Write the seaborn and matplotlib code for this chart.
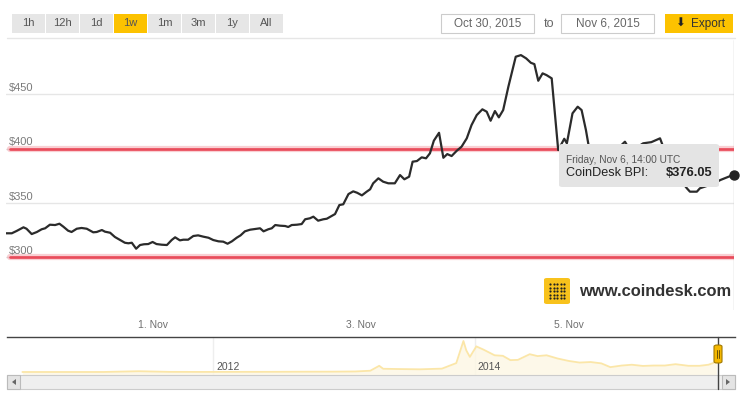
import pandas as pd
import matplotlib.pyplot as plt
import seaborn as sns
from matplotlib.patches import Rectangle, FancyBboxPatch, Polygon
from matplotlib.lines import Line2D

# CoinDesk BPI, hours after Oct 30 2015 14:00 UTC
start = pd.Timestamp('2015-10-30 14:00')
hours = [0, 1.4, 2.5, 4.1, 4.8, 6.0, 7.2, 8.3, 9.1, 10.2,
         11.4, 12.4, 13.3, 14.4, 15.2, 16.4, 17.5, 18.7, 20.2, 21.0,
         22.2, 22.9, 24.1, 25.2, 26.4, 27.5, 28.3, 29.1, 30.1, 31.0,
         31.9, 32.9, 33.9, 34.8, 36.0, 37.2, 38.3, 39.1, 40.2, 41.0,
         42.1, 43.3, 44.4, 45.6, 46.8, 47.9, 49.1, 50.2, 51.2, 52.2,
         53.3, 54.2, 55.2, 56.4, 57.5, 58.7, 59.5, 60.6, 61.4, 62.2,
         63.3, 64.5, 65.2, 66.0, 67.2, 68.3, 69.1, 70.2, 71.0, 72.1,
         73.3, 74.1, 75.2, 76.0, 77.0, 77.9, 79.1, 80.2, 81.1, 82.2,
         83.3, 84.1, 84.8, 86.0, 87.1, 88.3, 89.8, 91.0, 92.0, 93.1,
         93.9, 94.9, 96.0, 97.0, 97.9, 98.8, 100.0, 101.0, 101.9, 102.9,
         104.1, 105.2, 106.4, 107.5, 108.7, 110.0, 111.0, 111.9, 112.9, 113.8,
         114.8, 116.0, 117.7, 118.9, 120.1, 121.2, 122.0, 122.9, 123.9, 124.8,
         126.0, 127.5, 128.9, 129.5, 130.8, 132.0, 132.9, 133.9, 134.5, 136,
         138, 140, 141.5, 142.9, 144, 146, 147.1, 149, 151.0, 151.8,
         153, 155, 156.3, 157.2, 157.9, 159.5, 160.2, 162, 163.5, 164.9,
         168]
prices = [322.1, 322.1, 324.2, 327.6, 326.3, 321.4, 323.3, 325.8, 326.7, 330.0,
          329.7, 330.9, 328.2, 324.5, 323.3, 326.3, 327.0, 326.3, 323.0, 323.3,
          325.1, 323.6, 322.6, 318.7, 315.9, 313.4, 312.9, 313.4, 307.9, 311.3,
          312.0, 312.2, 314.1, 312.2, 311.6, 311.3, 315.9, 318.4, 315.6, 316.2,
          316.2, 319.6, 320.2, 319.0, 318.0, 315.9, 314.7, 314.4, 312.5, 314.7,
          318.0, 320.2, 323.9, 325.4, 326.0, 326.7, 323.9, 325.8, 326.7, 329.7,
          329.1, 328.8, 327.9, 329.7, 330.0, 330.6, 335.0, 335.9, 337.4, 333.7,
          335.0, 335.5, 338.0, 339.8, 348.1, 348.8, 358.2, 360.7, 359.4, 357.0,
          360.4, 362.6, 368.1, 372.7, 369.6, 368.1, 368.1, 375.7, 371.8, 374.2,
          388.0, 388.6, 392.0, 391.1, 395.7, 407.3, 414.6, 391.6, 395.0, 393.2,
          398.1, 401.8, 409.5, 421.7, 430.9, 436.2, 434.0, 425.7, 434.6, 428.8,
          435.5, 457.0, 484.6, 486.1, 483.1, 479.0, 477.8, 462.5, 469.3, 467.7,
          464.7, 398.7, 409.1, 404.9, 432.5, 438.6, 435.5, 417.1, 403.3, 398,
          395, 397, 401, 406.4, 399, 402, 404.9, 406, 409.5, 401,
          395, 380, 368, 363.5, 360.4, 360.4, 363.5, 366, 368, 371.1,
          376.05]

# navigator (full history)
nav_dates = ['2010-07-18', '2010-12-01', '2011-03-01', '2011-06-08', '2011-09-01',
             '2011-12-01', '2012-03-01', '2012-06-01', '2012-09-01', '2012-12-01',
             '2013-02-01', '2013-03-15', '2013-04-09', '2013-04-20', '2013-06-01',
             '2013-08-01', '2013-10-01', '2013-11-10', '2013-11-30', '2013-12-08',
             '2013-12-18', '2014-01-05', '2014-01-25', '2014-02-25', '2014-03-20',
             '2014-04-10', '2014-05-01', '2014-06-03', '2014-06-25', '2014-07-20',
             '2014-08-20', '2014-09-20', '2014-10-20', '2014-11-20', '2014-12-20',
             '2015-01-14', '2015-02-15', '2015-03-15', '2015-04-15', '2015-05-15',
             '2015-06-15', '2015-07-15', '2015-08-20', '2015-09-20', '2015-10-15',
             '2015-11-06']
nav_prices = [0.1, 0.3, 0.9, 29, 5, 3, 5, 6, 11, 13,
              20, 47, 230, 120, 110, 100, 125, 330, 1150, 800,
              560, 950, 830, 620, 600, 440, 450, 660, 590, 620,
              500, 410, 350, 370, 320, 180, 240, 270, 225, 240,
              240, 290, 230, 230, 270, 376]

range_buttons = ['1h', '12h', '1d', '1w', '1m', '3m', '1y', 'All']
active_button = '1w'
from_date = 'Oct 30, 2015'
to_date = 'Nov 6, 2015'
x_ticks = ['2015-11-01', '2015-11-03', '2015-11-05']
x_tick_labels = ['1. Nov', '3. Nov', '5. Nov']
y_ticks = [300, 350, 400, 450]
red_levels = [300, 400]
nav_ticks = ['2012-01-01', '2014-01-01']
nav_tick_labels = ['2012', '2014']
tooltip_date = 'Friday, Nov 6, 14:00 UTC'
tooltip_name = 'CoinDesk BPI:'

sns.set_style('white')
plt.rcParams['font.family'] = ['Liberation Sans', 'DejaVu Sans']

W, H = 742, 394
fig = plt.figure(figsize=(W / 100, H / 100), dpi=100)


def fx(x):
    return x / W


def fy(y):
    return 1 - y / H


# ---- main chart
ax = fig.add_axes([fx(5.7), fy(310), 728 / W, 270 / H])
df = pd.DataFrame({'time': start + pd.to_timedelta(hours, unit='h'), 'price': prices})
sns.lineplot(data=df, x='time', y='price', ax=ax, color='#2b2b2b', lw=1.6, zorder=4)
ax.set_xlim(df['time'].iloc[0], df['time'].iloc[-1])
ax.set_ylim(251.5, 500)

for v in y_ticks:
    ax.axhline(v, color='#e6e6e6', lw=1, zorder=1)
    ax.text(0.0045, v + 1.3, f'${v}', transform=ax.get_yaxis_transform(),
            ha='left', va='bottom', fontsize=8, color='#7a7a7a')
for v in red_levels:
    ax.axhline(v, xmin=0.006, color='#e8283a', lw=4.5, alpha=0.22, zorder=2)
    ax.axhline(v, xmin=0.006, color='#e8283a', lw=2, alpha=0.75, zorder=2)

last = df.iloc[-1]
ax.axvline(last['time'], color='#c8c8c8', lw=1, zorder=1)
ax.scatter([last['time']], [last['price']], s=42, color='#222222', zorder=6, clip_on=False)

ax.set_xticks(pd.to_datetime(x_ticks))
ax.set_xticklabels(x_tick_labels, fontsize=7.5, color='#707070')
ax.tick_params(axis='x', length=0, pad=7)
ax.set_yticks([])
ax.set_xlabel('')
ax.set_ylabel('')
for s in ax.spines.values():
    s.set_visible(False)

fig.add_artist(Line2D([fx(7), fx(735)], [fy(38), fy(38)], color='#e6e6e6', lw=1))

# tooltip
fig.add_artist(FancyBboxPatch((fx(559), fy(187)), 160 / W, 43 / H,
                              boxstyle='round,pad=0,rounding_size=0.005',
                              transform=fig.transFigure, facecolor='#e4e4e4',
                              edgecolor='none', zorder=10))
fig.text(fx(566.5), fy(159.5), tooltip_date, fontsize=7.3, color='#555555',
         va='center', ha='left', zorder=11)
fig.text(fx(566.5), fy(173), tooltip_name, fontsize=9.1, color='#222222',
         va='center', ha='left', zorder=11)
fig.text(fx(712), fy(173), f"${last['price']:.2f}", fontsize=9.3, color='#222222',
         weight='bold', va='center', ha='right', zorder=11)

# watermark
fig.add_artist(FancyBboxPatch((fx(544), fy(304)), 26 / W, 26 / H,
                              boxstyle='round,pad=0,rounding_size=0.004',
                              transform=fig.transFigure, facecolor='#f8c21c',
                              edgecolor='none', zorder=3))
dot_x, dot_y = [], []
for i in range(5):
    for j in range(5):
        dot_x.append(fx(550 + i * 3.5))
        dot_y.append(fy(284 + j * 3.5))
fig.add_artist(Line2D(dot_x, dot_y, ls='none', marker='o', ms=1.6, mew=0,
                      color='#222222', transform=fig.transFigure, zorder=4))
fig.text(fx(579), fy(292), 'www.coindesk.com', fontsize=11.9, color='#333333',
         va='center', ha='left', weight='bold')

# ---- top controls
for i, lab in enumerate(range_buttons):
    x0 = 12 + i * 34
    col = '#fcc200' if lab == active_button else '#e6e6e6'
    fig.add_artist(Rectangle((fx(x0), fy(33)), 33 / W, 19 / H, transform=fig.transFigure,
                             facecolor=col, edgecolor='none'))
    fig.text(fx(x0 + 16.5), fy(23.5), lab, fontsize=8, color='#555555',
             ha='center', va='center')

for (x0, x1), lab in zip([(441, 534), (561, 654)], [from_date, to_date]):
    fig.add_artist(Rectangle((fx(x0), fy(33)), (x1 - x0) / W, 19 / H,
                             transform=fig.transFigure, facecolor='white',
                             edgecolor='#cccccc', lw=0.8))
    fig.text(fx((x0 + x1) / 2), fy(23.5), lab, fontsize=8.5, color='#666666',
             ha='center', va='center')
fig.text(fx(549), fy(24), 'to', fontsize=9, color='#666666', ha='center', va='center')

fig.add_artist(Rectangle((fx(665), fy(33)), 68 / W, 19 / H, transform=fig.transFigure,
                         facecolor='#fcc200', edgecolor='none'))
fig.text(fx(680), fy(23.5), '\u2b07', fontsize=8.5, color='#222222', ha='center',
         va='center', family=['DejaVu Sans'])
fig.text(fx(691), fy(23.5), 'Export', fontsize=8.5, color='#333333', ha='left', va='center')

# ---- navigator
nav = fig.add_axes([fx(7), fy(375), 728 / W, 38 / H])
nav_df = pd.DataFrame({'date': pd.to_datetime(nav_dates), 'price': nav_prices})
nav.fill_between(nav_df['date'], nav_df['price'], -200, color='#fdf7e4', alpha=0.8, lw=0)
sns.lineplot(data=nav_df, x='date', y='price', ax=nav, color='#fbe6a8', lw=1.3)
nav.set_xlim(pd.Timestamp('2010-06-05'), pd.Timestamp('2015-12-28'))
nav.set_ylim(-111, 1298)
for d, lab in zip(pd.to_datetime(nav_ticks), nav_tick_labels):
    nav.axvline(d, color='#eeeeee', lw=1, zorder=0)
    nav.annotate(lab, (d, 0.21), xycoords=('data', 'axes fraction'), xytext=(3, 0),
                 textcoords='offset pixels', fontsize=7.5, color='#555555',
                 ha='left', va='center')
nav.set_xticks([])
nav.set_yticks([])
nav.set_xlabel('')
nav.set_ylabel('')
for k, s in nav.spines.items():
    s.set_visible(k == 'top')
nav.spines['top'].set_color('#444444')
nav.spines['top'].set_linewidth(1)

# scrollbar
fig.add_artist(Rectangle((fx(7), fy(389)), 728 / W, 14 / H, transform=fig.transFigure,
                         facecolor='#efefef', edgecolor='#cccccc', lw=0.8))
for x0, pts in [(7, [(16, 379), (16, 385), (12, 382)]),
                (722, [(726, 379), (726, 385), (730, 382)])]:
    fig.add_artist(Rectangle((fx(x0), fy(389)), 13 / W, 14 / H, transform=fig.transFigure,
                             facecolor='#e4e4e4', edgecolor='#bbbbbb', lw=0.8))
    fig.add_artist(Polygon([(fx(a), fy(b)) for a, b in pts], closed=True,
                           transform=fig.transFigure, facecolor='#666666', edgecolor='none'))

# navigator handle
fig.add_artist(Line2D([fx(718), fx(718)], [fy(337), fy(389)], color='#444444', lw=1))
fig.add_artist(FancyBboxPatch((fx(714), fy(363)), 8 / W, 18 / H,
                              boxstyle='round,pad=0,rounding_size=0.004',
                              transform=fig.transFigure, facecolor='#f5b800',
                              edgecolor='#a07800', lw=0.8, zorder=5))
for xx in (717, 719):
    fig.add_artist(Line2D([fx(xx), fx(xx)], [fy(350), fy(358)], color='#6a5000',
                          lw=0.7, zorder=6))

fig.savefig('out.png', dpi=100)
